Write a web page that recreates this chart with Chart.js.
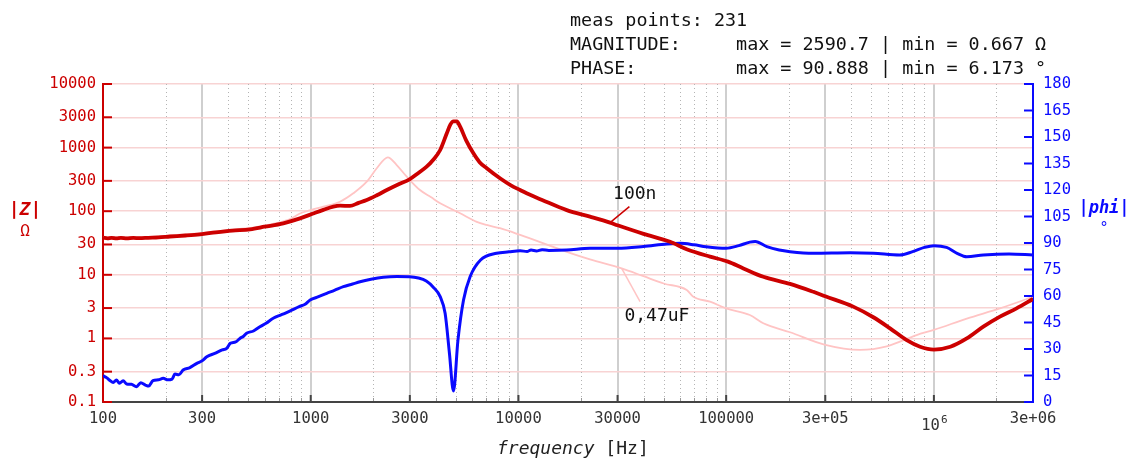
<!DOCTYPE html>
<html><head><meta charset="utf-8">
<script src="https://cdn.jsdelivr.net/npm/chart.js@4"></script>
<style>html,body{margin:0;padding:0;background:#fff;}canvas{display:block}</style>
</head><body>
<canvas id="c" width="1138" height="461"></canvas>
<script>
const MONO = '"DejaVu Sans Mono", "Liberation Mono", monospace';

// |Z| of the 100n part [Hz] / [Ohm]
const zFreq = [100,105,110,116,122,130,140,150,165,185,210,250,293,350,420,511,600,738,888,1028,1150,1285,1384,1545,1700,1861,2080,2324,2650,2990,3300,3614,3900,4200,4520,4700,4866,5050,5240,5600,6070,6500,7036,8150,9200,10190,10950,13000,17080,22100,27600,30000,40000,53700,65000,83600,102000,121000,151000,203000,263000,300000,409000,511000,615000,740000,858000,1000000,1200000,1440000,1730000,2080000,2500000,3000000];
const zMag  = [38.3,37.5,38.2,37.4,38,37.3,38,37.6,38.2,38.8,40,41.5,43.3,46.5,49.5,52,57,64.5,77,92,105,118,122,121,135,150,178,215,265,317,400,501,650,917,1680,2300,2590,2580,2133,1300,813,590,473,329,255,215,191,150,104,82,66,60,44,33,25,19.3,16.1,12.6,9.3,7.2,5.4,4.6,3.16,2.15,1.44,0.94,0.74,0.667,0.74,1.0,1.53,2.2,2.97,4.17];

// |Z| of the 0,47uF part
const pFreq = [100,150,200,293,400,511,600,700,800,888,1000,1151,1384,1603,1861,2080,2350,2594,2900,3357,3800,4200,5240,6300,7036,8150,10190,17080,22100,31400,40000,50000,64600,69500,83600,100000,130000,151000,203000,300000,441000,593000,826000,1000000,1440000,2080000,3000000];
const pMag  = [39,38.8,41,45,51,54.5,59.5,66,76,92,104,118,141,191,291,473,703,532,349,215,165,133,92.7,68,60.7,54,42.3,23,17.5,12.6,9.5,7.3,5.77,4.5,3.78,2.97,2.33,1.73,1.25,0.79,0.66,0.75,1.13,1.36,2.05,2.97,4.5];

// phase of the 100n part [deg]
const phFreq = [100,104,108,112,116,120,125,130,137,145,152,160,166,174,185,195,205,215,222,232,243,262,283,300,316,345,375,394,410,435,456,475,491,530,569,610,660,720,760,810,880,940,993,1090,1194,1300,1436,1590,1727,1950,2236,2600,2990,3300,3600,3890,4200,4436,4653,4866,5114,5440,5850,6570,7850,9000,10190,11000,11500,12200,13000,14000,17080,22100,30000,40000,51800,60000,70000,80000,100000,115000,130000,138000,157000,180000,203000,263000,395000,511000,684000,790000,900000,1000000,1150000,1300000,1440000,1730000,2300000,3000000];
const phDeg  = [14.9,13.8,12.2,11.1,12.4,10.6,12.0,10.2,10.0,8.7,10.9,9.6,9.0,12.1,12.6,13.4,12.6,13.0,15.8,15.4,18.1,19.5,21.9,23.3,25.6,27.5,29.5,30.4,33.2,34,36,37.2,38.9,40.2,42.6,44.6,47.4,49.3,50.5,52,54,55.3,57.7,59.6,61.5,63.2,65.3,66.8,68.1,69.5,70.6,71,70.9,70.2,68.5,65,59.6,50.2,27.6,6.2,35,57.7,70.9,80.4,84.2,85,85.6,85.2,86,85.5,86.2,85.8,86,87,87,88,89.4,89.8,89,87.9,87,88.5,90.5,90.9,87.9,86,85.1,84.2,84.5,84.2,83.2,85.1,87.5,88.5,87.5,84,82.2,83.2,83.8,83.2];

// axes
const xTicks = [100,300,1000,3000,10000,30000,100000,300000,1000000,3000000];
const xTickLabels = ['100','300','1000','3000','10000','30000','100000','3e+05','','3e+06'];
const xMinor = [200,400,500,600,700,800,900,2000,4000,5000,6000,7000,8000,9000,20000,40000,50000,60000,70000,80000,90000,200000,400000,500000,600000,700000,800000,900000,2000000];
const yTicks = [0.1,0.3,1,3,10,30,100,300,1000,3000,10000];
const yTickLabels = ['0.1','0.3','1','3','10','30','100','300','1000','3000','10000'];
const phTicks = [0,15,30,45,60,75,90,105,120,135,150,165,180];

const infoLines = ['meas points: 231','MAGNITUDE:     max = 2590.7 | min = 0.667 \u03A9','PHASE:         max = 90.888 | min = 6.173 \u00B0'];

// annotation anchors in data units
const annot100n = {text:'100n', tf:36300, tz:186, f1:34200, z1:118, f2:27600, z2:66};
const annot047 = {text:'0,47uF', tf:46400, tz:2.19, f1:38500, z1:3.78, f2:31400, z2:12.6};

const RED = '#cc0000', BLUE = '#0a0aff', PINK = '#ffc4c4';

const decor = {
  id: 'decor',
  beforeDatasetsDraw(chart) {
    const {ctx, chartArea: a, scales: {x}} = chart;
    ctx.save();
    ctx.strokeStyle = '#b4b4b4'; ctx.lineWidth = 1; ctx.setLineDash([1, 3]);
    xMinor.forEach(v => {
      const px = Math.round(x.getPixelForValue(v)) + 0.5;
      ctx.beginPath(); ctx.moveTo(px, a.top); ctx.lineTo(px, a.bottom); ctx.stroke();
    });
    ctx.restore();
  },
  afterDraw(chart) {
    const {ctx, chartArea: a, scales: {x, y, y1}} = chart;
    ctx.save();
    ctx.lineWidth = 2; ctx.strokeStyle = RED;
    yTicks.forEach(v => { const py = y.getPixelForValue(v); ctx.beginPath(); ctx.moveTo(a.left, py); ctx.lineTo(a.left + 9, py); ctx.stroke(); });
    ctx.strokeStyle = BLUE;
    phTicks.forEach(v => { const py = y1.getPixelForValue(v); ctx.beginPath(); ctx.moveTo(a.right - 9, py); ctx.lineTo(a.right, py); ctx.stroke(); });
    ctx.strokeStyle = '#444';
    xTicks.slice(1, -1).forEach(v => { const px = x.getPixelForValue(v); ctx.beginPath(); ctx.moveTo(px, a.bottom); ctx.lineTo(px, a.bottom - 7); ctx.stroke(); });
    ctx.lineWidth = 1; ctx.strokeStyle = '#999';
    xMinor.forEach(v => { const px = Math.round(x.getPixelForValue(v)) + 0.5; ctx.beginPath(); ctx.moveTo(px, a.bottom - 1); ctx.lineTo(px, a.bottom - 4); ctx.stroke(); });

    const p6 = x.getPixelForValue(1000000);
    ctx.fillStyle = '#333'; ctx.textBaseline = 'middle';
    ctx.font = '15.5px ' + MONO; ctx.textAlign = 'right';
    ctx.fillText('10', p6 + 6, 426);
    ctx.font = '11px ' + MONO; ctx.textAlign = 'left';
    ctx.fillText('6', p6 + 7, 420);

    ctx.fillStyle = '#111'; ctx.font = '18.4px ' + MONO; ctx.textAlign = 'left'; ctx.textBaseline = 'alphabetic';
    infoLines.forEach((t, i) => ctx.fillText(t, 570, 26 + i * 24));

    ctx.textAlign = 'center'; ctx.textBaseline = 'middle';
    ctx.fillStyle = RED; ctx.font = 'italic bold 18px ' + MONO;
    ctx.fillText('|Z|', 25, 210);
    ctx.font = '16px ' + MONO; ctx.fillText('\u03A9', 25, 232);
    ctx.fillStyle = BLUE; ctx.font = 'italic bold 17px ' + MONO;
    ctx.fillText('|phi|', 1104, 209);
    ctx.font = '15px ' + MONO; ctx.fillText('\u00B0', 1104, 229);

    ctx.fillStyle = '#222'; ctx.textAlign = 'left';
    ctx.font = 'italic 18px ' + MONO;
    const w1 = ctx.measureText('frequency ').width;
    ctx.fillText('frequency ', 497, 449);
    ctx.font = '18px ' + MONO;
    ctx.fillText('[Hz]', 497 + w1, 449);

    const drawAnn = (an, col) => {
      ctx.strokeStyle = col; ctx.lineWidth = 1.5;
      ctx.beginPath();
      ctx.moveTo(x.getPixelForValue(an.f1), y.getPixelForValue(an.z1));
      ctx.lineTo(x.getPixelForValue(an.f2), y.getPixelForValue(an.z2));
      ctx.stroke();
      ctx.fillStyle = '#111'; ctx.font = '18px ' + MONO; ctx.textAlign = 'center'; ctx.textBaseline = 'middle';
      ctx.fillText(an.text, x.getPixelForValue(an.tf), y.getPixelForValue(an.tz));
    };
    drawAnn(annot100n, RED);
    drawAnn(annot047, PINK);
    ctx.restore();
  }
};

const toPts = (fs, vs) => fs.map((f, i) => ({x: f, y: vs[i]}));

new Chart(document.getElementById('c'), {
  type: 'line',
  data: {
    datasets: [
      {label: '0,47uF', data: toPts(pFreq, pMag), yAxisID: 'y', borderColor: PINK, borderWidth: 1.8, pointRadius: 0, cubicInterpolationMode: 'monotone', order: 3},
      {label: 'phase', data: toPts(phFreq, phDeg), yAxisID: 'y1', borderColor: BLUE, borderWidth: 3, pointRadius: 0, cubicInterpolationMode: 'monotone', order: 2},
      {label: '100n', data: toPts(zFreq, zMag), yAxisID: 'y', borderColor: RED, borderWidth: 3.8, pointRadius: 0, cubicInterpolationMode: 'monotone', order: 1}
    ]
  },
  options: {
    responsive: false, animation: false, devicePixelRatio: 1,
    layout: {padding: {top: 84, left: 0, right: 0, bottom: 0}},
    plugins: {legend: {display: false}, tooltip: {enabled: false}, title: {display: false}},
    scales: {
      x: {
        type: 'logarithmic', min: 100, max: 3000000,
        afterBuildTicks: s => { s.ticks = xTicks.map(v => ({value: v})); },
        afterFit: s => { s.height = 59; },
        ticks: {autoSkip: false, maxRotation: 0, padding: 8, color: '#333', font: {family: MONO, size: 15.5},
          callback: (v, i) => xTickLabels[i]},
        grid: {color: '#cfcfcf', lineWidth: 2, drawTicks: false},
        border: {color: '#444', width: 2}
      },
      y: {
        type: 'logarithmic', position: 'left', min: 0.1, max: 10000,
        afterBuildTicks: s => { s.ticks = yTicks.map(v => ({value: v})); },
        afterFit: s => { s.width = 103; },
        ticks: {autoSkip: false, padding: 7, color: RED, font: {family: MONO, size: 15.5},
          callback: (v, i) => yTickLabels[i]},
        grid: {color: '#f8d3d3', lineWidth: 1.5, drawTicks: false},
        border: {color: RED, width: 2}
      },
      y1: {
        type: 'linear', position: 'right', min: 0, max: 180,
        afterBuildTicks: s => { s.ticks = phTicks.map(v => ({value: v})); },
        afterFit: s => { s.width = 105; },
        ticks: {autoSkip: false, padding: 10, color: BLUE, font: {family: MONO, size: 15.5},
          callback: v => String(v)},
        grid: {drawOnChartArea: false, drawTicks: false},
        border: {color: BLUE, width: 2}
      }
    }
  },
  plugins: [decor]
});
</script>
</body></html>
